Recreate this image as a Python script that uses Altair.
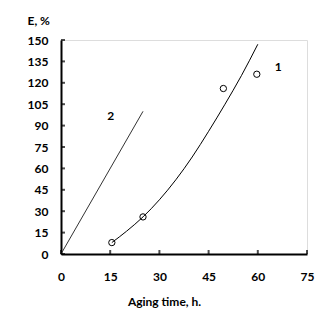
import altair as alt
import pandas as pd

# measured points (series 1)
pts_x = [15.5, 25, 49.5, 59.7]
pts_y = [8, 26, 116, 126]

# fitted curve 1
curve_x = [15.5, 20, 25, 30, 35, 40, 45, 50, 55, 60]
curve_y = [8, 16, 26, 38, 52, 68, 86, 105, 125, 147]

# line 2
line2_x = [0, 25]
line2_y = [0, 100]

# curve labels
lab_text = ["1", "2"]
lab_x = [66.2, 15.2]
lab_y = [131, 97]

x_ticks = [0, 15, 30, 45, 60, 75]
y_ticks = [0, 15, 30, 45, 60, 75, 90, 105, 120, 135, 150]

FONT = "Lato"
FS = 12

pts = pd.DataFrame({"x": pts_x, "y": pts_y})
curve = pd.DataFrame({"x": curve_x, "y": curve_y})
line2 = pd.DataFrame({"x": line2_x, "y": line2_y})
labs = pd.DataFrame({"x": lab_x, "y": lab_y, "t": lab_text})
xt = pd.DataFrame({"x": x_ticks, "y": [0] * len(x_ticks)})
yt = pd.DataFrame({"y": y_ticks, "x": [0] * len(y_ticks)})

xs = alt.Scale(domain=[0, 75], nice=False, zero=False)
ys = alt.Scale(domain=[0, 150], nice=False, zero=False)

xaxis = alt.Axis(values=x_ticks, title="Aging time, h.", grid=False, ticks=False,
                 domainWidth=2, domainColor="black", labelPadding=17, labelOverlap=False,
                 labelFlush=False,
                 labelFont=FONT, labelFontSize=FS, labelFontWeight="bold", labelColor="black",
                 titleFont=FONT, titleFontSize=FS, titleFontWeight="bold", titleColor="black",
                 titleX=103, titleY=42)
yaxis = alt.Axis(values=y_ticks, title="E, %", grid=False, ticks=False,
                 domainWidth=2, domainColor="black", labelPadding=13, labelOverlap=False,
                 labelFlush=False,
                 labelFont=FONT, labelFontSize=FS, labelFontWeight="bold", labelColor="black",
                 titleFont=FONT, titleFontSize=FS, titleFontWeight="bold", titleColor="black",
                 titleAngle=0, titleX=-34, titleY=-20, titleAlign="left", titleBaseline="middle")

X = alt.X("x:Q", scale=xs, axis=xaxis)
Y = alt.Y("y:Q", scale=ys, axis=yaxis)

base_line = alt.Chart(curve).mark_line(color="black", strokeWidth=1, interpolate="monotone").encode(x=X, y=Y)
l2 = alt.Chart(line2).mark_line(color="#333333", strokeWidth=1).encode(x=X, y=Y)
p = alt.Chart(pts).mark_point(shape="circle", size=40, filled=False, color="black", strokeWidth=1, opacity=1).encode(x=X, y=Y)
t = alt.Chart(labs).mark_text(font=FONT, fontSize=FS, fontWeight="bold", color="black").encode(x=X, y=Y, text="t:N")
xtk = alt.Chart(xt).mark_tick(orient="vertical", size=4, thickness=2, yOffset=-2, color="black").encode(x=X, y=Y)
ytk = alt.Chart(yt).mark_tick(orient="horizontal", size=4, thickness=2, xOffset=2, color="black").encode(x=X, y=Y)

chart = alt.layer(base_line, l2, p, t, xtk, ytk).properties(
    width=246, height=214,
    autosize=alt.AutoSizeParams(type="none"),
    padding={"left": 53, "top": 32, "right": 10, "bottom": 60},
).configure_view(stroke=None).configure(background="white")

chart.save("out.html", embed_options={"renderer": "svg", "actions": False})
